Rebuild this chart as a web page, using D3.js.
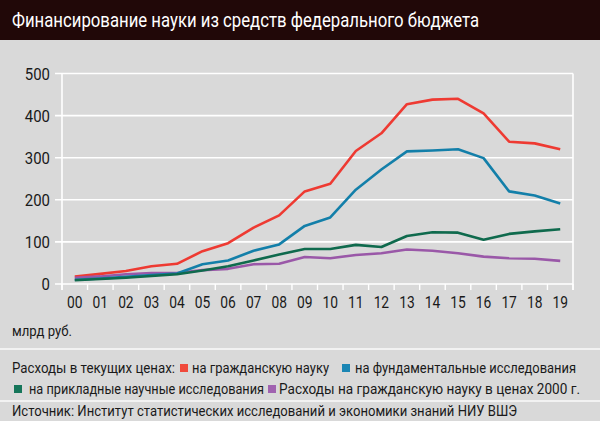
<!DOCTYPE html>
<html><head><meta charset="utf-8">
<script src="https://cdn.jsdelivr.net/npm/d3@7"></script>
<style>
html,body{margin:0;padding:0;background:#d9d9d9;}
svg{display:block;font-family:Roboto,"Noto Sans",sans-serif;}
</style></head>
<body><svg id="c" width="600" height="421"></svg>
<script>
const title = "Финансирование науки из средств федерального бюджета";
const years = ["00","01","02","03","04","05","06","07","08","09","10","11","12","13","14","15","16","17","18","19"];
const yTicks = [0,100,200,300,400,500];
const civil = [18,24,31,42,48,78,97,134,163,220,238,316,358,427,438,440,405,338,334,320];
const fundamental = [10,13,17,21,25,47,56,79,94,138,158,224,272,315,317,320,299,220,210,191];
const applied = [9,12,15,19,23,32,42,56,70,83,83,93,88,114,123,122,105,119,125,130];
const civil2000 = [15,18,23,26,26,33,36,47,48,64,61,69,73,82,79,73,65,61,60,55];
const unitLabel = "млрд руб.";
const legendPrefix = "Расходы в текущих ценах:";
const seriesNames = ["на гражданскую науку","на фундаментальные исследования","на прикладные научные исследования","Расходы на гражданскую науку в ценах 2000 г."];
const lineColors = ["#ee3a32","#137fa9","#0f6a4d","#9a58a8"];
const swatchColors = ["#f04a3c","#1b86b4","#16765a","#a062b0"];
const source = "Источник: Институт статистических исследований и экономики знаний НИУ ВШЭ";

const svg = d3.select("#c");
svg.append("rect").attr("width",600).attr("height",421).attr("fill","#d9d9d9");
svg.append("rect").attr("width",600).attr("height",40).attr("fill","#210808");
svg.append("text").attr("x",12).attr("y",27).attr("fill","#fff").attr("font-size",20)
  .attr("textLength",467).attr("lengthAdjust","spacingAndGlyphs").text(title);

const x = d3.scaleBand().domain(years).range([62,573]);
const y = d3.scaleLinear().domain([0,500]).range([284,73.5]);
const g = svg.append("g");
g.selectAll(".grid").data(yTicks).join("line")
  .attr("x1",55).attr("x2",573).attr("y1",d=>y(d)).attr("y2",d=>y(d))
  .attr("stroke","#fff").attr("stroke-width",1.6);
[62,573].forEach(xx=>g.append("line").attr("x1",xx).attr("x2",xx).attr("y1",y(500)).attr("y2",290)
  .attr("stroke","#fff").attr("stroke-width",1.6));
const edges = years.map(d=>x(d)).concat([x.range()[1]]);
g.selectAll(".bt").data(edges).join("line")
  .attr("x1",d=>d).attr("x2",d=>d).attr("y1",y(0)).attr("y2",290)
  .attr("stroke","#fff").attr("stroke-width",1.4);
g.selectAll(".yl").data(yTicks).join("text")
  .attr("x",50).attr("y",d=>y(d)+6).attr("text-anchor","end").attr("font-size",17)
  .attr("textLength",d=>String(d).length*8.4).attr("lengthAdjust","spacingAndGlyphs")
  .attr("fill","#1a1a1a").text(d=>d);
g.selectAll(".xl").data(years).join("text")
  .attr("x",d=>x(d)+x.bandwidth()/2).attr("y",308).attr("text-anchor","middle")
  .attr("font-size",16.5).attr("textLength",15.5).attr("lengthAdjust","spacingAndGlyphs")
  .attr("fill","#1a1a1a").text(d=>d);

const line = d3.line().x((d,i)=>x(years[i])+x.bandwidth()/2).y(d=>y(d));
const order = [[civil,0],[civil2000,3],[fundamental,1],[applied,2]];
order.forEach(([arr,ci])=>{
  svg.append("path").attr("d",line(arr)).attr("fill","none")
    .attr("stroke",lineColors[ci]).attr("stroke-width",2.6).attr("stroke-linejoin","round");
});

svg.append("text").attr("x",12).attr("y",336).attr("font-size",14).attr("fill","#1a1a1a")
  .attr("textLength",60).attr("lengthAdjust","spacingAndGlyphs").text(unitLabel);
[349,401].forEach(yy=>svg.append("line").attr("x1",0).attr("x2",600).attr("y1",yy).attr("y2",yy)
  .attr("stroke","#f2f2f2").attr("stroke-width",2.2));

function ltext(t,xx,yy,len){
  svg.append("text").attr("x",xx).attr("y",yy).attr("font-size",14).attr("fill","#1a1a1a")
    .attr("textLength",len).attr("lengthAdjust","spacingAndGlyphs").text(t);
}
function sw(c,xx,yy){ svg.append("rect").attr("x",xx).attr("y",yy).attr("width",8).attr("height",8).attr("fill",c); }
ltext(legendPrefix,12,373,163);
sw(swatchColors[0],180,364); ltext(seriesNames[0],192,373,137);
sw(swatchColors[1],342,364); ltext(seriesNames[1],355,373,221);
sw(swatchColors[2],14,385); ltext(seriesNames[2],29,394,235);
sw(swatchColors[3],268,385); ltext(seriesNames[3],279,394,301);
ltext(source,12,416,505);
</script></body></html>
